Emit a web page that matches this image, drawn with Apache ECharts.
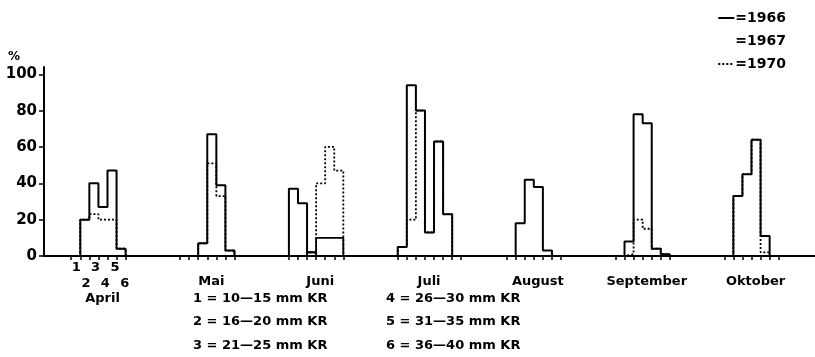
<!DOCTYPE html>
<html>
<head>
<meta charset="utf-8">
<script src="https://cdn.jsdelivr.net/npm/echarts@6/dist/echarts.min.js"></script>
<style>
html,body{margin:0;padding:0;background:#fff;}
#chart{width:815px;height:357px;}
</style>
</head>
<body>
<div id="chart"></div>
<script>
// ---- data ----
const months = ['April', 'Mai', 'Juni', 'Juli', 'August', 'September', 'Oktober'];
const classNumbers = ['1', '2', '3', '4', '5', '6'];
const classKeyLeft = ['1 = 10—15 mm KR', '2 = 16—20 mm KR', '3 = 21—25 mm KR'];
const classKeyRight = ['4 = 26—30 mm KR', '5 = 31—35 mm KR', '6 = 36—40 mm KR'];
const yTicks = [0, 20, 40, 60, 80, 100];
const years = ['1966', '1967', '1970'];

// percent per size class (1..6) for each month
const y1966 = [
  [0, 20, 40, 27, 47, 4],
  [0, 0, 7, 67, 39, 3],
  [37, 29, 2, 0, 0, 0],
  [5, 94, 80, 13, 63, 23],
  [0, 18, 42, 38, 3, 0],
  [0, 8, 78, 73, 4, 1],
  [0, 33, 45, 64, 11, 0]
];
const y1967 = [
  [0, 0, 0, 0, 0, 0],
  [0, 0, 0, 0, 0, 0],
  [0, 0, 2, 10, 10, 10],
  [0, 0, 0, 0, 0, 0],
  [0, 0, 0, 0, 0, 0],
  [0, 0, 0, 0, 0, 0],
  [0, 0, 0, 0, 0, 0]
];
const y1970 = [
  [0, 20, 23, 20, 20, 4],
  [0, 0, 7, 51, 33, 3],
  [0, 0, 2, 40, 60, 47],
  [5, 20, 80, 13, 63, 23],
  [0, 0, 0, 0, 0, 0],
  [0, 1, 20, 15, 4, 1],
  [0, 33, 45, 64, 2, 0]
];

// ---- layout helpers (class units along x) ----
const FIRST = 3, STEP = 12, NCLS = 6;
const monthStart = months.map((m, i) => FIRST + STEP * i);

function stepPoints(values) {
  const pts = [];
  values.forEach((vals, m) => {
    const o = monthStart[m];
    if (m > 0) pts.push([o - 1, null]);
    pts.push([o, 0]);
    vals.forEach((v, k) => { pts.push([o + k, v]); pts.push([o + k + 1, v]); });
    pts.push([o + NCLS, 0]);
  });
  return pts;
}

const tickVals = [];
monthStart.forEach((o, m) => {
  const n = m === 3 ? NCLS + 1 : NCLS;
  for (let k = 0; k <= n; k++) tickVals.push(o + k);
});
const classLabelVals = classNumbers.map((c, k) => monthStart[0] + 0.55 + k * 1.07);
const monthLabelVals = monthStart.map(o => o + NCLS / 2 + 0.45);

const FONT = 'DejaVu Sans';
const chart = echarts.init(document.getElementById('chart'), null, {renderer: 'canvas'});

const keyText = (lines, x) => lines.map((t, i) => ({
  type: 'text', left: x, top: 292 + i * 23.5,
  style: {text: t, font: 'bold 13px "' + FONT + '"', fill: '#000'}
}));

chart.setOption({
  backgroundColor: '#fff',
  animation: false,
  grid: {left: 44, right: 0, top: 67, bottom: 101, containLabel: false},
  legend: {
    orient: 'vertical', right: 24, top: 6, itemGap: 9,
    itemWidth: 16, itemHeight: 14,
    formatter: '={name}',
    itemStyle: {opacity: 0, borderWidth: 0},
    textStyle: {fontFamily: FONT, fontWeight: 'bold', fontSize: 14, color: '#000', padding: [0, 0, 0, -4]},
    data: [
      {name: '1966'},
      {name: '1967', lineStyle: {opacity: 0}},
      {name: '1970'}
    ]
  },
  xAxis: [{
    type: 'value', min: 0, max: 85,
    axisLine: {show: true, lineStyle: {color: '#000', width: 2}},
    axisTick: {show: true, length: 4, customValues: tickVals, lineStyle: {color: '#000', width: 1.5}},
    splitLine: {show: false},
    axisLabel: {
      customValues: classLabelVals, margin: 4,
      fontFamily: FONT, fontWeight: 'bold', fontSize: 13, color: '#000', lineHeight: 16,
      formatter: (v) => {
        const k = Math.round((v - monthStart[0] - 0.55) / 1.07);
        const t = classNumbers[k];
        return k % 2 === 0 ? t : '\n' + t;
      },
      verticalAlign: 'top'
    }
  }, {
    type: 'value', min: 0, max: 85, position: 'bottom',
    axisLine: {show: false}, axisTick: {show: false}, splitLine: {show: false},
    axisLabel: {
      customValues: monthLabelVals, margin: 17,
      fontFamily: FONT, fontWeight: 'bold', fontSize: 13, color: '#000', lineHeight: 17,
      verticalAlign: 'top',
      formatter: (v) => {
        const m = Math.round((v - FIRST - NCLS / 2 - 0.45) / STEP);
        return m === 0 ? '\n' + months[m] : months[m];
      }
    }
  }],
  yAxis: {
    type: 'value', min: 0, max: 104,
    axisLine: {show: true, lineStyle: {color: '#000', width: 2}},
    axisTick: {show: true, length: 5, customValues: yTicks, lineStyle: {color: '#000', width: 1.5}},
    splitLine: {show: false},
    axisLabel: {customValues: yTicks, margin: 7, fontFamily: FONT, fontWeight: 'bold', fontSize: 15, color: '#000'}
  },
  series: [
    {name: '1970', type: 'line', data: stepPoints(y1970), symbol: 'none', showSymbol: false, connectNulls: false, z: 2,
     lineStyle: {color: '#000', width: 1.8, type: [2, 2]}, itemStyle: {color: '#000'}},
    {name: '1967', type: 'line', data: stepPoints(y1967), symbol: 'none', showSymbol: false, connectNulls: false, z: 3,
     lineStyle: {color: '#000', width: 1.8}, itemStyle: {color: '#000'}},
    {name: '1966', type: 'line', data: stepPoints(y1966), symbol: 'none', showSymbol: false, connectNulls: false, z: 4,
     lineStyle: {color: '#000', width: 2}, itemStyle: {color: '#000'}}
  ],
  graphic: [
    {type: 'text', left: 8, top: 51, style: {text: '%', font: 'bold 12px "' + FONT + '"', fill: '#000'}}
  ].concat(keyText(classKeyLeft, 193), keyText(classKeyRight, 386))
});
</script>
</body>
</html>
